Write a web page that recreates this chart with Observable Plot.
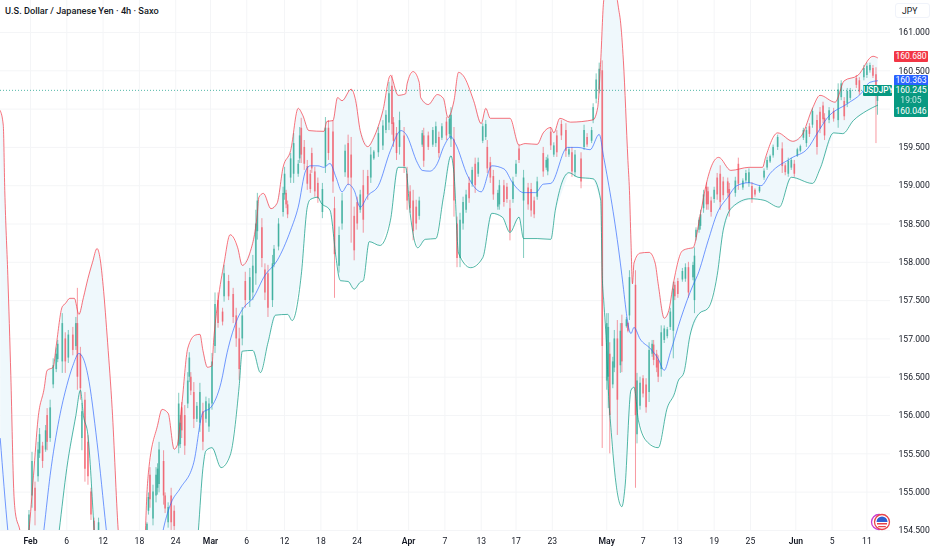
<!DOCTYPE html>
<html><head><meta charset="utf-8">
<script src="https://cdn.jsdelivr.net/npm/d3@7"></script>
<script src="https://cdn.jsdelivr.net/npm/@observablehq/plot@0.6"></script>
<style>
html,body{margin:0;padding:0;background:#fff;width:932px;height:550px;overflow:hidden;font-family:Roboto,sans-serif}
#wrap{position:relative;width:932px;height:550px}
#title{position:absolute;left:5px;top:5px;font-size:9.2px;line-height:12px;color:#131722;white-space:nowrap;font-weight:500}
.tag{position:absolute;color:#fff;font-size:8.6px;line-height:11px;text-align:center;border-radius:1px}
#jpy{position:absolute;left:895px;top:3px;width:35px;height:15px;border:1px solid #f0f3fa;border-radius:3px;box-sizing:border-box;font-size:8.6px;line-height:14px;color:#131722;padding-left:6px}
</style></head><body>
<div id="wrap"><div id="title">U.S. Dollar / Japanese Yen · 4h · Saxo</div><div id="jpy">JPY</div></div>
<script>
const priceTicks=[161,160.5,160,159.5,159,158.5,158,157.5,157,156.5,156,155.5,155,154.5];
const hiddenPriceLabel=160;
const dayBars=[24,48,72,96,143,168,192,216,274,298,321,345,405,428,452,476,530,553];
const dayLabels=["6","12","18","24","6","12","18","24","7","13","17","23","7","13","19","25","5","11"];
const monthBars=[0,119,250,381,506];
const monthLabels=["Feb","Mar","Apr","May","Jun"];
const lastPrice=160.245;

const upperBar=[-20,-18,-17,-15,-13,-11,-10,-7,-4,-1,2,5,9,11,15,17,21,23,26,29,32,35,38,41,44,46,48,51,54,58,63,69,74,76,77,78,84,87,91,95,97,100,104,109,112,114,117,120,121,124,128,132,137,140,145,150,151,154,159,163,167,172,177,180,184,194,196,200,203,206,212,215,218,223,227,233,238,243,248,249,253,257,258,263,269,273,276,280,283,286,293,298,301,304,317,323,327,335,339,344,346,350,357,372,375,377,379,384,389,390,392,395,396,397,398,399,403,409,413,415,419,422,425,431,435,438,443,447,451,455,463,475,484,486,494,504,510,517,522,532,538,547,557,560];
const upperPrice=[159.98,159.79,158.94,157.83,156.52,154.99,154.73,154.5,154.1,154.5,155.22,155.96,156.35,156.59,156.63,156.91,157.42,157.46,157.53,157.53,157.32,157.54,157.79,158,158.18,158.05,157.7,156.95,156.09,154.5,153.6,153.3,153.6,154.5,154.99,155.26,155.87,156.08,156.03,155.56,155.61,156.13,156.88,157.05,157.06,156.85,156.63,156.65,156.95,157.5,157.99,158.36,158.19,157.96,158.12,158.64,158.85,158.9,158.7,158.77,159.24,159.46,160.01,159.92,159.72,159.71,159.84,159.85,160.15,160.11,160.26,160.11,159.72,159.51,159.63,159.98,160.44,160.18,160.2,160.33,160.49,160.35,160.15,160.06,160.19,160.14,159.89,160.11,160.48,160.44,160.11,159.81,160.01,159.88,159.88,159.53,159.55,159.54,159.69,159.76,159.69,159.88,159.83,159.86,160.02,160.63,161.42,161.81,161.29,161.16,160.63,159.33,158.94,158.28,157.72,157.99,158.12,158.13,157.99,157.72,157.27,157.37,157.72,158.15,158.18,158.19,158.64,159.04,159.29,159.37,159.2,159.24,159.24,159.37,159.69,159.58,159.66,160.01,160.18,160.09,160.37,160.44,160.69,160.67];

const middleBar=[-20,-15,-7,0,9,13,19,24,28,32,35,38,44,50,60,76,88,93,99,108,114,119,126,130,137,141,147,155,163,172,177,182,185,190,194,198,202,206,210,214,218,223,230,238,245,248,256,259,264,269,273,278,281,289,298,305,313,319,326,334,339,344,355,362,370,376,379,390,391,397,399,403,410,415,419,423,430,438,441,448,454,461,467,475,483,489,503,514,520,527,540,549,555,560];
const middlePrice=[155.7,154.5,153.2,153,154.53,155.22,155.96,156.39,156.65,156.81,156.74,156.52,155.65,154.53,152.8,152.8,154.53,154.86,155.05,155.39,156.04,156.1,156.43,156.82,157.27,157.41,157.53,157.83,158.02,158.42,158.72,159.2,159.26,159.26,159.24,159.29,159.11,158.92,159.02,158.94,158.72,158.87,159,159.46,159.72,159.68,159.29,159.2,159.19,159.29,159.5,159.64,159.55,159.13,158.92,159.26,159.22,159.03,158.91,158.91,159.02,159.03,159.5,159.5,159.47,159.67,159.37,157.99,157.83,157.07,157.15,157,156.87,156.74,156.59,156.82,157.27,157.7,157.83,158.28,158.64,158.85,159,159.04,159,159.16,159.36,159.49,159.68,159.89,160.07,160.2,160.35,160.37];

const lowerBar=[-20,0,10,19,24,30,33,35,38,42,50,63,79,99,111,114,116,120,126,132,138,140,147,152,157,162,170,173,179,183,185,190,192,198,202,204,205,210,214,218,220,224,231,238,243,248,251,256,261,268,273,278,280,283,291,299,305,312,317,323,326,335,344,347,356,362,372,377,378,379,381,382,384,387,391,393,397,399,402,408,415,421,426,428,432,436,442,448,454,458,464,476,485,495,503,517,522,531,537,544,553,560];
const lowerPrice=[150,151,153,154.5,155.31,156,156.33,156,155.74,154.53,152,150,150,152,154.5,155.31,155.54,155.58,155.32,155.48,156.39,156.84,156.85,156.56,156.95,157.31,157.32,157.24,157.83,158.72,158.82,158.85,158.78,158.68,158.06,157.8,157.76,157.75,157.65,157.74,157.76,158.27,158.22,158.55,159.24,159.24,158.64,158.19,158.3,158.31,158.85,159.39,159.16,158.12,157.93,158.06,158.64,158.59,158.39,158.59,158.31,158.31,158.3,158.68,159.17,159.11,159.09,158.81,157.83,157.5,156.85,156.35,155.78,155.13,154.81,155.05,156.33,156.37,155.93,155.65,155.58,156.1,156.3,156.44,156.56,157.04,157.33,157.4,157.83,158.42,158.72,158.83,158.81,158.72,159.11,159.03,159.22,159.69,159.68,159.85,159.98,160.05];

const candleBar=[-1,1,3,5,6,8,10,11,13,15,17,18,21,23,25,28,30,31,33,34,36,38,40,42,45,
77,78,79,81,83,84,85,88,89,91,93,95,98,99,100,102,104,105,106,108,
110,112,114,116,118,120,122,124,127,128,131,134,136,138,140,142,145,147,149,150,
153,155,157,160,161,164,167,168,169,170,172,174,177,178,179,181,183,185,186,188,
190,193,195,197,200,201,204,206,208,210,212,214,216,218,220,223,225,227,230,233,
235,237,239,240,242,244,247,249,251,253,255,257,259,260,263,266,268,270,272,275,
277,278,280,282,284,286,288,290,292,294,296,299,301,302,304,306,309,310,313,315,
317,319,321,323,326,329,331,333,335,339,341,342,344,346,348,351,354,356,358,360,
364,366,368,371,372,374,376,378,381,382,383,385,386,388,390,391,394,395,396,400,
401,403,405,407,409,411,412,414,415,417,419,421,423,425,426,428,431,433,435,438,
439,440,442,443,445,447,448,450,452,454,456,458,461,462,466,468,471,473,475,477,
479,482,485,487,489,491,494,497,499,501,503,505,507,509,511,513,515,517,520,522,
524,525,528,531,534,536,538,540,542,546,548,551,553,555,557,559,560];
const candleHigh=[154.76,155.52,155.13,155.65,155.83,155.65,155.87,156.09,156.2,156.74,156.88,156.98,157.33,157.08,157.11,157.15,157.28,157.66,156.89,156.16,156.3,155.74,155.05,154.66,154.66,
154.6,154.99,155.32,155.09,155.32,155.37,155.65,155.54,154.99,154.86,155.05,154.82,156.29,156,156.17,156.13,156.56,156.82,156.56,156.43,
156.17,156.42,156.16,156.24,156.22,156.81,157.6,157.6,157.4,157.96,157.83,157.66,157.4,157.14,157.41,157.87,157.92,158.09,158.68,158.9,
158.57,157.98,157.96,158.09,158.22,158.57,158.98,159.24,158.94,158.8,159.42,159.68,159.33,159.76,159.88,159.59,159.33,159.2,159.49,159.24,
159.1,159.03,159.89,159.85,159.85,158.85,158.46,158.9,159.53,159.66,159.63,158.72,158.85,158.94,159.2,159.2,159.5,159.46,159.76,159.85,
159.98,160.35,160.44,159.89,159.76,159.96,159.76,159.24,159,158.94,158.81,158.85,159.72,159.75,159.7,159.76,159.83,159.7,159.81,159.89,
159.92,160.02,159.76,158.59,158.64,158.85,158.94,159.11,159.24,159.36,159.36,159.81,159.85,159.59,159.37,159.2,158.94,159.07,159.07,159.03,
158.81,159.11,159.33,159.53,159.2,159.03,159.03,158.85,159.11,159.5,159.37,159.4,159.76,159.56,159.72,159.85,159.81,159.5,159.5,159.46,
159.43,159.79,159.68,159.76,160.07,160.46,160.6,160.63,157.33,157.33,156.95,156.76,157.11,157.24,157.2,157.31,157.28,157.22,157.89,157.89,
156.55,156.5,156.52,156.48,156.95,156.98,156.98,156.85,156.78,157.17,157.17,157.15,157.4,157.74,157.74,157.79,157.92,157.98,158,158,
158.19,158.45,158.58,158.68,158.94,159.04,158.98,158.85,158.98,159.16,159.26,159.11,159.1,159.03,159.11,159.36,159.09,159.2,159.22,159.04,
158.96,159,159.22,159.37,159.4,159.53,159.66,159.56,159.29,159.36,159.36,159.33,159.49,159.53,159.75,159.76,159.81,160.01,159.92,160.02,
160.09,159.94,160.02,160.01,160.33,160.37,160.15,160.27,160.27,160.44,160.41,160.57,160.6,160.6,160.57,160.54,160.26];
const candleLow=[154.3,154.79,154.56,155.13,155.44,155.31,155.52,155.54,155.65,156.35,156.56,156.69,156.55,156.55,156.68,156.78,156.85,156.33,156.2,155.54,155.13,155.09,154.63,154.4,154.35,
154.4,154.7,154.79,154.56,154.86,154.96,154.99,154.83,154.72,154.53,154.5,154.45,155.5,155.57,155.7,155.48,156.09,156.43,156.26,155.83,
155.91,155.78,155.54,155.9,155.78,156.07,156.81,157.14,157.17,157.48,157.5,157.2,156.89,156.46,156.91,157.4,157.41,157.5,157.7,158.29,
157.93,157.5,157.28,157.41,157.93,158.15,158.59,158.81,158.7,158.57,159.03,159.03,159.11,159.29,159.29,159.2,158.94,158.9,159.16,158.85,
158.77,158.57,159.16,159.33,158.9,157.53,157.86,158.42,159.11,159,158.25,158.02,158.42,158.64,158.38,158.81,159.03,159.33,159.37,159.46,
159.68,159.72,159.66,159.5,159.33,159.4,159.16,158.68,158.64,158.28,158.42,158.55,159.5,159.24,159.46,159.5,159.5,159.36,159.59,159.59,
159.63,159.5,158.59,157.93,157.93,158.42,158.64,158.77,158.98,158.9,159.11,159.55,159.59,159.16,159.03,158.81,158.68,158.68,158.72,158.77,
158.28,158.77,159.11,159.29,158.05,158.68,158.59,158.57,158.81,159.11,159.2,159.13,159.46,159.37,159.37,159.59,159.37,159.37,159.11,159.11,
158.96,159.46,159.5,159.55,159.81,160.07,160.2,155.57,156.33,156.09,155.5,156.35,156.56,155.74,156.55,156.56,157.14,157.08,157.24,155.05,
155.63,156.07,156.23,156.03,156.17,156.76,156.65,156.56,156.43,156.5,156.94,157,157.11,156.74,157.5,157.53,157.74,157.74,157.53,157.76,
157.33,158.28,158.38,158.42,158.64,158.68,158.68,158.59,158.77,158.81,158.68,158.81,158.85,158.59,158.85,158.94,158.94,159.03,158.98,158.77,
158.85,158.9,159.07,159.2,159.29,159.36,159.46,159.16,159.13,159.11,159.2,159.11,159.37,159.43,159.59,159.5,159.63,159.75,159.4,159.68,
159.81,159.59,159.81,159.83,159.75,160.11,159.85,160.02,160.11,160.27,160.18,160.37,160.4,160.47,160.4,159.55,159.92];
const candleOpen=[154.4,154.95,155.05,155.2,155.5,155.6,155.55,156,155.7,156.4,156.6,156.73,156.7,157,156.75,157.05,156.9,157.2,156.8,155.7,156.2,155.65,155,154.62,154.4,
154.45,154.75,155.22,154.65,154.95,155.05,155.1,155.4,154.95,154.6,154.95,154.75,155.6,155.62,156.1,156,156.15,156.5,156.5,156.3,
155.95,155.9,156.05,155.95,155.85,156.15,156.9,157.5,157.35,157.55,157.75,157.58,157.3,157,157,157.75,157.5,157.6,157.85,158.4,
158.45,157.9,157.85,157.5,157.97,158.2,158.65,158.88,158.9,158.75,159.1,159.15,159.15,159.35,159.75,159.5,159.25,159.15,159.42,159.18,
159.03,158.65,159.25,159.75,159.7,158.7,157.95,158.5,159.17,159.55,159.4,158.6,158.78,158.68,159,159.12,159.1,159.35,159.43,159.52,
159.72,159.82,160.3,159.82,159.68,159.5,159.65,159.15,158.92,158.8,158.72,158.6,159.53,159.65,159.65,159.53,159.55,159.63,159.62,159.83,
159.67,159.6,159.6,158.5,158.05,158.5,158.68,159.03,159.02,159.28,159.15,159.58,159.63,159.5,159.3,159.12,158.72,158.75,159,158.98,
158.7,158.82,159.15,159.48,158.8,158.97,158.95,158.8,158.85,159.42,159.23,159.18,159.7,159.4,159.65,159.8,159.72,159.4,159.43,159.17,
159.35,159.5,159.63,159.58,159.85,160.13,160.25,160.5,156.45,156.5,156.8,156.4,156.62,157,156.65,157.2,157.16,157.2,157.3,157.7,
155.75,156.12,156.48,156.4,156.3,156.8,156.92,156.8,156.72,156.6,156.98,157.03,157.15,157.1,157.7,157.75,157.77,157.78,157.93,157.8,
157.5,158.32,158.42,158.47,158.7,158.98,158.92,158.8,158.82,159.1,159.15,159.05,159.05,158.95,158.9,159.28,158.97,159.06,159.03,158.99,
158.94,158.92,159.1,159.23,159.31,159.39,159.5,159.48,159.26,159.15,159.23,159.28,159.39,159.45,159.62,159.55,159.77,159.79,159.85,159.96,
160.04,159.88,159.85,159.97,159.85,160.15,160.1,160.07,160.14,160.4,160.37,160.41,160.44,160.5,160.53,160.45,160.1];
const candleClose=[154.7,155.4,154.75,155.55,155.75,155.4,155.8,155.65,156.1,156.65,156.8,156.93,157.2,156.7,157.05,156.85,157.2,156.5,156.35,156.05,155.3,155.2,154.7,154.45,154.6,
154.58,154.93,154.9,155,155.22,155.3,155.55,154.95,154.78,154.8,154.6,154.55,156.15,155.9,155.8,155.6,156.45,156.75,156.32,155.95,
156.12,156.3,155.65,156.18,156.15,156.7,157.45,157.2,157.22,157.85,157.55,157.28,157,156.6,157.3,157.5,157.8,157.95,158.5,158.8,
158.05,157.6,157.4,157.98,158.17,158.5,158.9,159.15,158.75,158.62,159.35,159.55,159.28,159.65,159.4,159.28,159.02,158.95,159.22,158.92,
158.83,158.95,159.75,159.42,159.05,158.1,158.35,158.8,159.45,159.1,159.1,158.15,158.5,158.88,158.55,158.88,159.4,159.44,159.68,159.78,
159.92,160.2,159.8,159.58,159.42,159.85,159.25,158.8,158.7,158.4,158.5,158.8,159.68,159.32,159.5,159.72,159.77,159.42,159.77,159.65,
159.87,159.92,158.8,158.05,158.55,158.78,158.88,158.83,159.2,159,159.3,159.77,159.8,159.22,159.1,158.88,158.9,159,158.78,158.82,
158.4,159.05,159.28,159.33,159.1,158.75,158.67,158.62,159.05,159.18,159.33,159.35,159.52,159.52,159.43,159.65,159.45,159.47,159.18,159.4,
159.05,159.72,159.53,159.72,160.02,160.38,160.52,156.9,157.2,157.15,156,156.7,157,156.2,157.1,156.7,157.25,157.1,157.8,156,
156.45,156.42,156.28,156.1,156.85,156.93,156.72,156.62,156.5,157.08,157.13,157.12,157.35,157.65,157.55,157.58,157.88,157.93,157.6,157.96,
158.08,158.42,158.55,158.62,158.88,158.75,158.75,158.65,158.94,158.88,158.78,158.87,158.9,158.68,159.06,159.02,159.06,159.16,159.17,158.83,
158.88,158.98,159.19,159.33,159.38,159.5,159.63,159.25,159.17,159.32,159.33,159.15,159.47,159.51,159.72,159.72,159.67,159.97,159.5,159.74,
159.86,159.65,159.98,159.87,160.25,160.33,159.9,160.23,160.24,160.31,160.22,160.53,160.56,160.57,160.43,160.3,160.245];

const tagTexts=["160.680","160.363","160.245","19:05","160.046"];
const tagPrices=[160.68,160.363,160.245];

const UP="#089981",DOWN="#f23645",BASIS="#2962ff",FILL="#eff8fc",GRID="#f4f5f7";
const candles=candleBar.map((bar,i)=>({bar,high:candleHigh[i],low:candleLow[i],open:candleOpen[i],close:candleClose[i]}));
const zip=(b,p)=>b.map((bar,i)=>({bar,price:p[i]}));
const upper=zip(upperBar,upperPrice),middle=zip(middleBar,middlePrice),lower=zip(lowerBar,lowerPrice);
const ring=upper.concat(lower.slice().reverse());
const isUp=d=>d.close>=d.open;
const candleMarks=(test,color)=>[
  Plot.ruleX(candles.filter(test),{x:"bar",y1:"low",y2:"high",stroke:color,strokeWidth:1,strokeOpacity:.5,clip:true}),
  Plot.ruleX(candles.filter(test),{x:"bar",y1:"open",y2:"close",stroke:color,strokeWidth:1.8,strokeOpacity:.5,clip:true})
];
const chart=Plot.plot({
  width:932,height:550,marginLeft:0,marginRight:42,marginTop:0,marginBottom:20,
  style:{fontFamily:"Roboto, sans-serif",background:"transparent",overflow:"visible",filter:"blur(0.3px)"},
  x:{domain:[-19.83,568.6],axis:null},
  y:{domain:[154.499,161.418],axis:null},
  marks:[
    Plot.ruleY(priceTicks,{stroke:GRID,strokeWidth:1}),
    Plot.ruleX(dayBars.concat(monthBars),{stroke:GRID,strokeWidth:1}),
    Plot.line(ring,{x:"bar",y:"price",fill:FILL,stroke:"none",clip:true}),
    ...candleMarks(d=>isUp(d),UP),
    ...candleMarks(d=>!isUp(d),DOWN),
    Plot.ruleY([lastPrice],{stroke:UP,strokeWidth:1,strokeDasharray:"1,2",strokeOpacity:.7}),
    Plot.line(upper,{x:"bar",y:"price",curve:"monotone-x",stroke:DOWN,strokeWidth:1,strokeOpacity:.7,clip:true}),
    Plot.line(middle,{x:"bar",y:"price",curve:"monotone-x",stroke:BASIS,strokeWidth:1,strokeOpacity:.65,clip:true}),
    Plot.line(lower,{x:"bar",y:"price",curve:"monotone-x",stroke:UP,strokeWidth:1,strokeOpacity:.7,clip:true}),
    Plot.axisY({anchor:"right",ticks:priceTicks.filter(p=>p!==hiddenPriceLabel),tickSize:0,tickPadding:8,tickFormat:d3.format(".3f"),textAnchor:"start",fontSize:8.6,fill:"#131722",label:null}),
    Plot.axisX({anchor:"bottom",ticks:dayBars,tickSize:0,tickPadding:7,tickFormat:d=>dayLabels[dayBars.indexOf(d)],fontSize:8.6,fill:"#131722",label:null}),
    Plot.axisX({anchor:"bottom",ticks:monthBars,tickSize:0,tickPadding:7,tickFormat:d=>monthLabels[monthBars.indexOf(d)],fontSize:8.6,fontWeight:600,fill:"#131722",label:null})
  ]
});
const wrap=document.getElementById("wrap");
chart.style.position="absolute";chart.style.left="0";chart.style.top="0";
wrap.prepend(chart);
const yAt=p=>chart.scale("y").apply(p);
const addBox=(left,width,top,height,bg,text)=>{
  const d=document.createElement("div");d.className="tag";
  d.style.cssText+=`left:${left}px;width:${width}px;top:${top}px;height:${height}px;background:${bg};line-height:${height}px`;
  if(text)d.textContent=text;wrap.appendChild(d);return d;
};
const lastY=yAt(tagPrices[2]);
addBox(894,34,yAt(tagPrices[0])-5.5,11,DOWN,tagTexts[0]);
addBox(894,34,yAt(tagPrices[1])-5.5,11,BASIS,tagTexts[1]);
addBox(894,34,lastY-5,32,UP,"");
addBox(894,34,lastY-5,10,"transparent",tagTexts[2]);
addBox(894,34,lastY+5,10,"transparent",tagTexts[3]).style.opacity=.75;
addBox(894,34,lastY+16,10,"transparent",tagTexts[4]);
const nameTag=addBox(863,29,lastY-5,11,UP,"USDJPY");nameTag.style.fontWeight=500;nameTag.style.fontSize="8.2px";
const logo=document.createElement("div");
logo.style.cssText="position:absolute;left:870px;top:512px;width:22px;height:20px";
logo.innerHTML=`<svg width="22" height="20" viewBox="0 0 22 20"><circle cx="9" cy="10" r="7.5" fill="#fff" stroke="#c93bd0" stroke-width="1.3"/><circle cx="12" cy="10" r="7.5" fill="#fff" stroke="#e8434a" stroke-width="1.3"/><path d="M6.5 10a5.5 5.5 0 0 1 11 0z" fill="#2f5fd0"/><path d="M7 11h10v1.4H7zM8.2 14h7.6v1.2H8.2z" fill="#e8434a"/></svg>`;
wrap.appendChild(logo);
</script></body></html>
